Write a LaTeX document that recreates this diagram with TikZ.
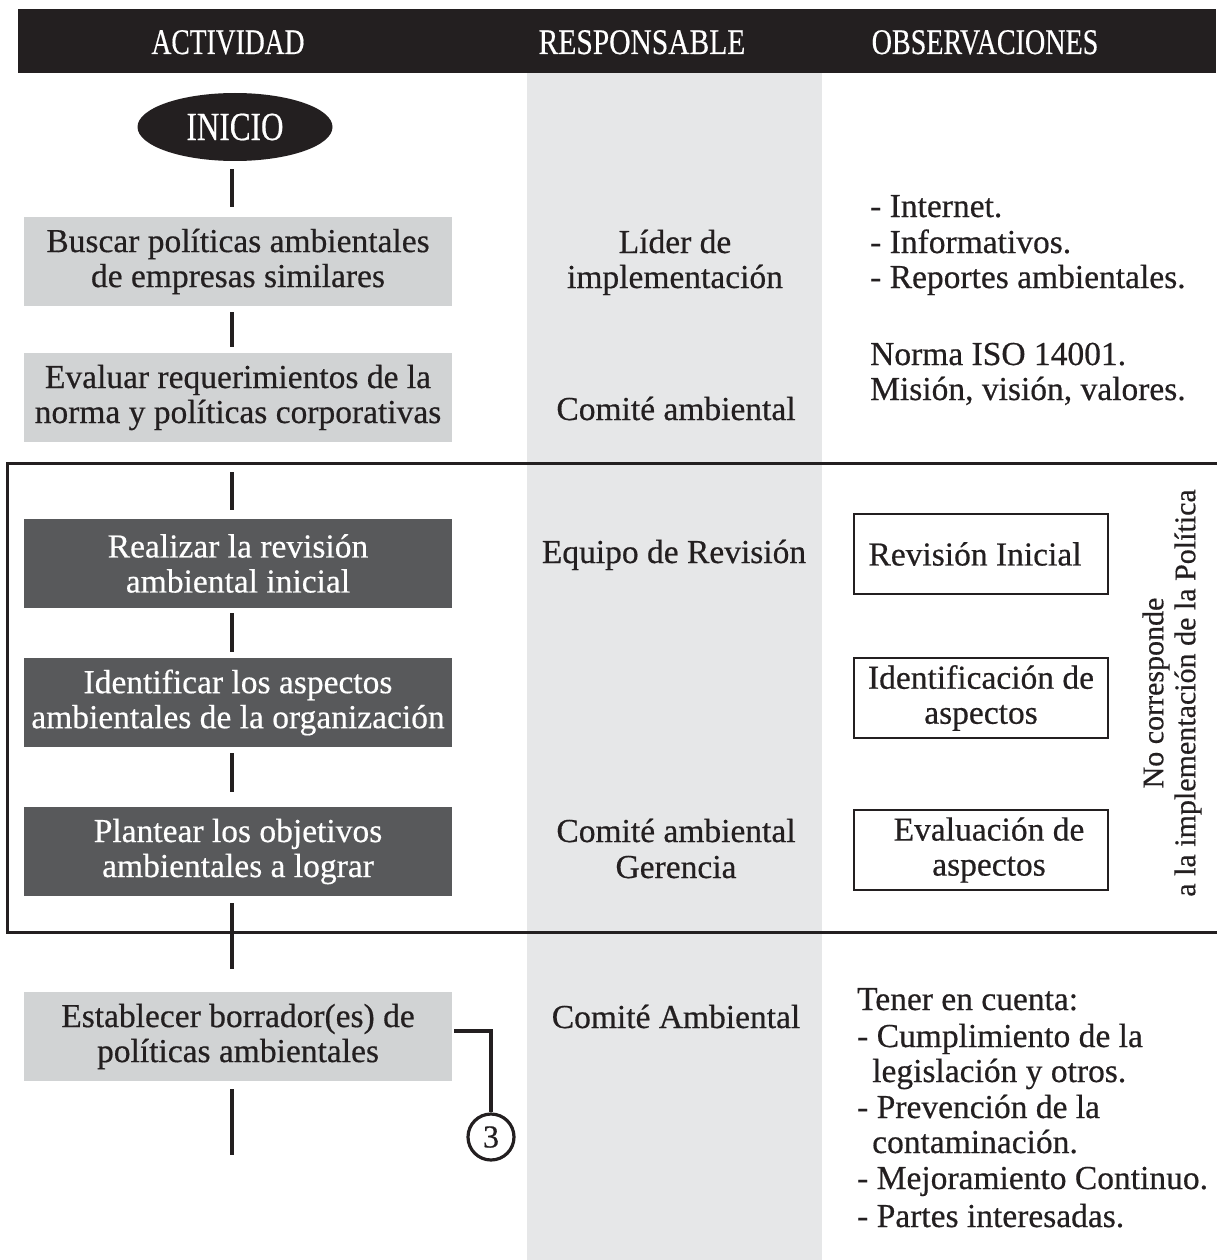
\documentclass[tikz,border=0pt]{standalone}
\usepackage{fontspec}
\setmainfont{Liberation Serif}[FakeBold=0.5]
\usetikzlibrary{shapes.geometric}
\definecolor{hdr}{HTML}{231F20}
\definecolor{colgray}{HTML}{E6E7E8}
\definecolor{boxlight}{HTML}{D1D3D4}
\definecolor{boxdark}{HTML}{58595B}
\begin{document}
\begin{tikzpicture}[x=1pt,y=-1pt,
  txt/.style={font=\fontsize{33.5}{35}\selectfont, text=hdr, inner sep=0pt},
  actbox/.style={txt, minimum width=428pt, minimum height=89pt, align=center},
  lightbox/.style={actbox, fill=boxlight},
  darkbox/.style={actbox, fill=boxdark, text=white},
  obsbox/.style={txt, draw=hdr, line width=2.8pt, minimum width=254pt, minimum height=80pt, align=center},
  hdrtxt/.style={font=\fontsize{36}{38}\selectfont, text=white, inner sep=0pt, anchor=base},
  vline/.style={draw=hdr, line width=3.5pt},
  lbl/.style={txt, anchor=base},
  lbw/.style={txt, anchor=base west},
]
\useasboundingbox (0,0) rectangle (1216,1260);
% backgrounds
\fill[colgray] (527,73) rectangle (822,1260);
\fill[hdr] (18,9) rectangle (1216,73);
\node[hdrtxt] (h1) at (228,54) {\scalebox{0.765}[1]{ACTIVIDAD}};
\node[hdrtxt] (h2) at (642,54) {\scalebox{0.82}[1]{RESPONSABLE}};
\node[hdrtxt] (h3) at (985,54) {\scalebox{0.78}[1]{OBSERVACIONES}};

% frame
\draw[hdr, line width=3pt] (1220,463) -- (7,463) -- (7,932) -- (1220,932);

% activity column
\node[ellipse, fill=hdr, minimum width=195pt, minimum height=68pt, inner sep=0pt,
      text=white, font=\fontsize{40}{42}\selectfont] (inicio) at (235,127) {\scalebox{0.78}[1]{INICIO}};
\node[lightbox] (buscar) at (238,261.5) {Buscar políticas ambientales\\de empresas similares};
\node[lightbox] (evaluar) at (238,397.5) {Evaluar requerimientos de la\\norma y políticas corporativas};
\node[darkbox] (realizar) at (238,563.5) {Realizar la revisión\\ambiental inicial};
\node[darkbox] (identificar) at (238,702.5) {Identificar los aspectos\\ambientales de la organización};
\node[darkbox] (plantear) at (238,851.5) {Plantear los objetivos\\ambientales a lograr};
\node[lightbox] (est) at (238,1036.5) {Establecer borrador(es) de\\políticas ambientales};
\coordinate (fin) at (232,1155);

\draw[vline, shorten <=8pt, shorten >=10pt] ([xshift=-3pt]inicio.south) -- ([xshift=-6pt]buscar.north);
\draw[vline, shorten <=6pt, shorten >=6pt] ([xshift=-6pt]buscar.south) -- ([xshift=-6pt]evaluar.north);
\draw[vline, shorten <=30pt, shorten >=9pt] ([xshift=-6pt]evaluar.south) -- ([xshift=-6pt]realizar.north);
\draw[vline, shorten <=5pt, shorten >=6pt] ([xshift=-6pt]realizar.south) -- ([xshift=-6pt]identificar.north);
\draw[vline, shorten <=6pt, shorten >=15pt] ([xshift=-6pt]identificar.south) -- ([xshift=-6pt]plantear.north);
\draw[vline, shorten <=7pt, shorten >=23pt] ([xshift=-6pt]plantear.south) -- ([xshift=-6pt]est.north);
\draw[vline] (est.south) ++(-6,8) -- (fin);

% connector to circle 3
\node[circle, draw=hdr, line width=3.2pt, minimum size=46pt, inner sep=0pt, text=hdr,
      font=\fontsize{32}{34}\selectfont] (c3) at (491,1137) {3};
\draw[vline] ([shift={(2,-5.5)}]est.east) -| (c3.north);

% responsable column
\node[lbl] (r1a) at (675,253) {Líder de};
\node[lbl] (r1b) at (675,288) {implementación};
\node[lbl] (r2) at (676,420) {Comité ambiental};
\node[lbl] (r3) at (674,563) {Equipo de Revisión};
\node[lbl] (r4a) at (676,842) {Comité ambiental};
\node[lbl] (r4b) at (676,878) {Gerencia};
\node[lbl] (r5) at (676,1028) {Comité Ambiental};

% observaciones column
\node[lbw] (o1a) at (870,217) {- Internet.};
\node[lbw] (o1b) at (870,253) {- Informativos.};
\node[lbw] (o1c) at (870,288) {- Reportes ambientales.};
\node[lbw] (o2a) at (870,365) {Norma ISO 14001.};
\node[lbw] (o2b) at (870,400) {Misión, visión, valores.};

\node[obsbox] (b1) at (981,554) {Revisión Inicial\hspace*{12pt}};
\node[obsbox] (b2) at (981,698) {Identificación de\\aspectos};
\node[obsbox] (b3) at (981,850) {\hspace*{16pt}Evaluación de\\\hspace*{16pt}aspectos};

\node[txt, font=\fontsize{30}{32}\selectfont, rotate=90, align=center] (vert) at (1172,693)
  {No corresponde\\a la implementación de la Política};

\node[lbw] (t1) at (857,1010) {Tener en cuenta:};
\node[lbw] (t2) at (857,1047) {- Cumplimiento de la};
\node[lbw] (t3) at (872,1082) {legislación y otros.};
\node[lbw] (t4) at (857,1118) {- Prevención de la};
\node[lbw] (t5) at (872,1153) {contaminación.};
\node[lbw] (t6) at (857,1189) {- Mejoramiento Continuo.};
\node[lbw] (t7) at (857,1227) {- Partes interesadas.};
\end{tikzpicture}
\end{document}
